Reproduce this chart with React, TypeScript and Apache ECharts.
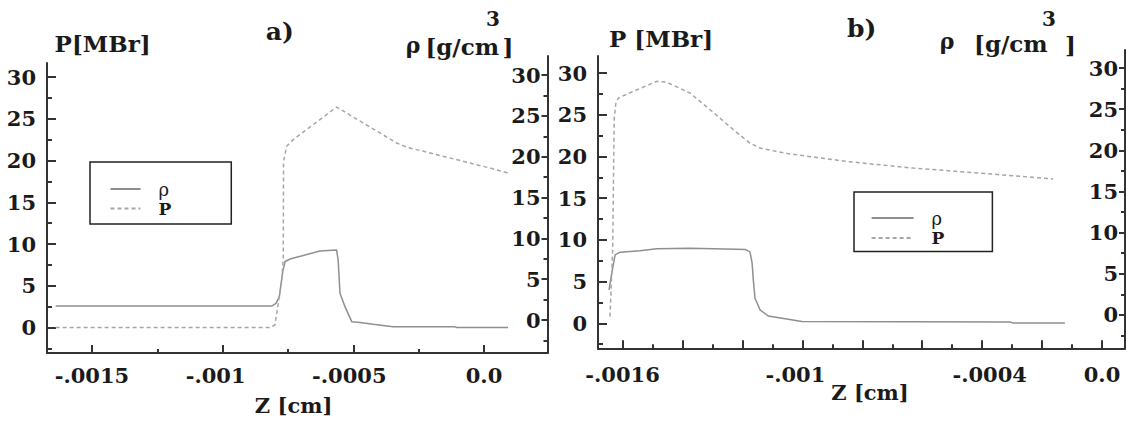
import React, { useEffect, useRef } from "react";
import * as echarts from "echarts";

// ---------- data: panel a) ----------
const aRhoZ = [-0.001639, -0.000812, -0.000796, -0.000783, -0.000778, -0.00077, -0.000761, -0.000742, -0.000628, -0.000564, -0.000558, -0.000551, -0.000532, -0.000506, -0.000474, -0.000424, -0.000372, -0.000347, -0.000111, -0.000104, 0.000092];
const aRhoV = [2.57, 2.57, 2.9, 3.7, 4.9, 6.7, 7.9, 8.2, 9.16, 9.28, 8.1, 4.1, 2.5, 0.7, 0.6, 0.38, 0.18, 0.08, 0.08, 0, 0];
const aPZ = [-0.001639, -0.000819, -0.0008, -0.000787, -0.000774, -0.000768, -0.000767, -0.000755, -0.00073, -0.000564, -0.000334, -0.000296, 0.000023, 0.000092];
const aPV = [0, 0, 0.3, 2.9, 5.5, 8.5, 19.9, 21.7, 22.5, 26.4, 22.1, 21.6, 19.1, 18.5];

// ---------- data: panel b) ----------
const bRhoZ = [-0.001645, -0.001638, -0.001631, -0.001625, -0.001608, -0.001542, -0.001486, -0.001375, -0.001219, -0.001191, -0.001175, -0.001168, -0.001163, -0.001158, -0.001141, -0.001114, -0.001047, -0.001002, -0.000307, -0.000296, -0.000124];
const bRhoV = [4.0, 5.6, 7.0, 8.2, 8.52, 8.68, 8.92, 9.0, 8.88, 8.85, 8.56, 7.3, 4.9, 3.0, 1.6, 0.88, 0.48, 0.2, 0.16, 0.02, 0.02];
const bPZ = [-0.001642, -0.001633, -0.001628, -0.001622, -0.001614, -0.001564, -0.001486, -0.001453, -0.001375, -0.001308, -0.00123, -0.001175, -0.001141, -0.001086, -0.001041, -0.000852, -0.00063, -0.000407, -0.000163];
const bPV = [0.8, 8.8, 24.5, 26.5, 27.0, 27.8, 29.0, 28.9, 27.6, 25.6, 23.2, 21.6, 21.0, 20.6, 20.3, 19.4, 18.6, 18.0, 17.3];

// ---------- ticks ----------
const yMajor = [0, 5, 10, 15, 20, 25, 30];
const yMinor = [-2.5, 2.5, 7.5, 12.5, 17.5, 22.5, 27.5];
const aXMajor = [-0.0015, -0.001, -0.0005, 0];
const aXMinor = [-0.00125, -0.00075, -0.00025];
const aXLabels = ["-.0015", "-.001", "-.0005", "0.0"];
const bXMajor = [-0.0016, -0.0014, -0.0012, -0.001, -0.0008, -0.0006, -0.0004, -0.0002, 0];
const bXMinor = [-0.0015, -0.0013, -0.0011, -0.0009, -0.0007, -0.0005, -0.0003, -0.0001];
const bXLabelVals = [-0.0016, -0.001, -0.0004, 0];
const bXLabels = ["-.0016", "-.001", "-.0004", "0.0"];
const seriesNames = ["ρ", "P"];

const zip = (xs: number[], ys: number[]) => xs.map((x, i) => [x, ys[i]]);

const FONT = '"DejaVu Serif", serif';
const TXT = "#1a1a1a";
const AX = "#333";
const RHO_C = "#8f8f8f";
const P_C = "#a6a6a6";

const tokenBase = { fontFamily: FONT, fontWeight: "bold", fontSize: 21, color: TXT };
const xRich = {
  n: { ...tokenBase },
  l7: { ...tokenBase, padding: [0, 14, 0, 0] },
  l4: { ...tokenBase, padding: [0, 8, 0, 0] },
  r7: { ...tokenBase, padding: [0, 0, 0, 15] },
};
const shiftOf: Record<string, string> = { "-.001": "l7", "-.0005": "l4", "-.0004": "r7" };

const fmtFrom = (vals: number[], labels: string[]) => (v: number) => {
  const i = vals.findIndex((t) => Math.abs(t - v) < 1e-9);
  if (i < 0) return "";
  const k = shiftOf[labels[i]] || "n";
  return `{${k}|${labels[i]}}`;
};

function mainX(grid: number, min: number, max: number, ticks: number[], labelVals: number[], labels: string[], margin: number) {
  return {
    type: "value", gridIndex: grid, min, max, position: "bottom",
    axisLine: { show: true, onZero: false, lineStyle: { color: AX, width: 2 } },
    axisTick: { show: true, inside: true, length: 8, customValues: ticks, lineStyle: { color: AX, width: 2 } },
    axisLabel: { show: true, customValues: labelVals, formatter: fmtFrom(labelVals, labels), margin, rich: xRich, ...tokenBase },
    splitLine: { show: false },
  };
}
function minorX(grid: number, min: number, max: number, ticks: number[]) {
  return {
    type: "value", gridIndex: grid, min, max, position: "bottom",
    axisLine: { show: false, onZero: false },
    axisTick: { show: true, inside: true, length: 4, customValues: ticks, lineStyle: { color: AX, width: 2 } },
    axisLabel: { show: false }, splitLine: { show: false },
  };
}
function hiddenX(grid: number) {
  return { type: "value", gridIndex: grid, min: 0, max: 1, show: false, axisLine: { onZero: false } };
}
function mainY(grid: number, min: number, max: number, pos: string, inside: boolean, tickLen: number, margin: number) {
  return {
    type: "value", gridIndex: grid, min, max, position: pos,
    axisLine: { show: true, onZero: false, lineStyle: { color: AX, width: 2 } },
    axisTick: { show: true, inside: true, length: tickLen, customValues: yMajor, lineStyle: { color: AX, width: 2 } },
    axisLabel: { show: true, inside, customValues: yMajor, margin, fontFamily: FONT, fontWeight: "bold", fontSize: 21, color: TXT },
    splitLine: { show: false },
  };
}
function minorY(grid: number, min: number, max: number, pos: string, tickLen: number) {
  return {
    type: "value", gridIndex: grid, min, max, position: pos,
    axisLine: { show: false, onZero: false },
    axisTick: { show: true, inside: true, length: tickLen, customValues: yMinor.filter((v) => v > min && v < max), lineStyle: { color: AX, width: 2 } },
    axisLabel: { show: false }, splitLine: { show: false },
  };
}

const rhoLine = { color: RHO_C, width: 1.5 };
const pLine = { color: P_C, width: 1.5, type: [4, 3] };

function legendCfg(left: number, top: number, padding: number[], itemWidth: number, itemHeight: number, gap: number) {
  return {
    data: [
      { name: seriesNames[0], textStyle: { fontFamily: FONT, fontSize: 18, fontWeight: "normal", color: TXT, padding: [0, 0, 0, 13] } },
      { name: seriesNames[1], textStyle: { fontFamily: FONT, fontSize: 17, fontWeight: "bold", color: TXT, padding: [0, 0, 0, 13] } },
    ],
    left, top, orient: "vertical", padding, itemWidth, itemHeight, itemGap: gap,
    borderColor: "#222", borderWidth: 1.5, selectedMode: false, backgroundColor: "#fff",
    itemStyle: { opacity: 0 },
    textStyle: { fontFamily: FONT, fontSize: 17, color: TXT },
  };
}

function txt(text: string, x: number, y: number, size: number, align = "left") {
  return {
    type: "text", x, y, silent: true,
    style: { text, font: `bold ${size}px ${FONT}`, fill: TXT, textAlign: align, textVerticalAlign: "middle", align, verticalAlign: "middle" },
  };
}

const option = {
  animation: false,
  backgroundColor: "#fff",
  grid: [
    { left: 47, top: 63, width: 500.5, height: 290 },
    { left: 47, top: 56, width: 500.5, height: 297 },
    { left: 598, top: 56, width: 527, height: 292.3 },
    { left: 598, top: 50, width: 527, height: 298 },
  ],
  xAxis: [
    mainX(0, -0.001672, 0.000243, aXMajor, aXMajor, aXLabels, 12),
    minorX(0, -0.001672, 0.000243, aXMinor),
    hiddenX(1),
    mainX(2, -0.001682, 0.0000767, bXMajor, bXLabelVals, bXLabels, 16),
    minorX(2, -0.001682, 0.0000767, bXMinor),
    hiddenX(3),
  ],
  yAxis: [
    mainY(0, -3.054, 31.68, "left", false, 9, 11),
    minorY(0, -3.054, 31.68, "left", 5),
    mainY(1, -4.04, 32.33, "right", true, 6, 7),
    minorY(1, -4.04, 32.33, "right", 4),
    mainY(2, -3.0, 32.04, "left", false, 9, 11),
    minorY(2, -3.0, 32.04, "left", 5),
    mainY(3, -4.01, 32.19, "right", true, 6, 7),
    minorY(3, -4.01, 32.19, "right", 4),
  ],
  legend: [
    legendCfg(90, 162, [18, 60, 7, 19.5], 30, 18, 2),
    legendCfg(854, 192, [17, 48, 5, 16.6], 42, 19, 2.5),
  ],
  series: [
    { type: "line", name: "ρ", color: RHO_C, xAxisIndex: 0, yAxisIndex: 0, data: zip(aRhoZ, aRhoV), symbol: "none", lineStyle: rhoLine, silent: true },
    { type: "line", name: "P", color: P_C, xAxisIndex: 0, yAxisIndex: 0, data: zip(aPZ, aPV), symbol: "none", lineStyle: pLine, silent: true },
    { type: "line", name: "ρ", color: RHO_C, xAxisIndex: 3, yAxisIndex: 4, data: zip(bRhoZ, bRhoV), symbol: "none", lineStyle: rhoLine, silent: true },
    { type: "line", name: "P", color: P_C, xAxisIndex: 3, yAxisIndex: 4, data: zip(bPZ, bPV), symbol: "none", lineStyle: pLine, silent: true },
  ],
  graphic: [
    txt("P[MBr]", 54.6, 43, 23),
    txt("a)", 265.7, 31, 25),
    txt("ρ", 405.7, 45, 22),
    txt("[g/cm", 425.4, 46, 23),
    txt("3", 493, 19, 20, "center"),
    txt("]", 502.6, 46, 23),
    txt("Z [cm]", 293.6, 405, 21, "center"),
    txt("P [MBr]", 609, 38, 23),
    txt("b)", 847, 28, 25),
    txt("ρ", 939.7, 41, 22),
    txt("[g/cm", 974, 43, 23),
    txt("3", 1049, 19, 20, "center"),
    txt("]", 1065, 44, 23),
    txt("Z [cm]", 870, 392, 21, "center"),
  ],
};

export default function App() {
  const ref = useRef<HTMLDivElement>(null);
  useEffect(() => {
    if (!ref.current) return;
    const chart = echarts.init(ref.current, null, { renderer: "svg" });
    chart.setOption(option as any);
    return () => chart.dispose();
  }, []);
  return <div ref={ref} style={{ position: "fixed", left: 0, top: 0, width: 1127, height: 421, background: "#fff" }} />;
}
